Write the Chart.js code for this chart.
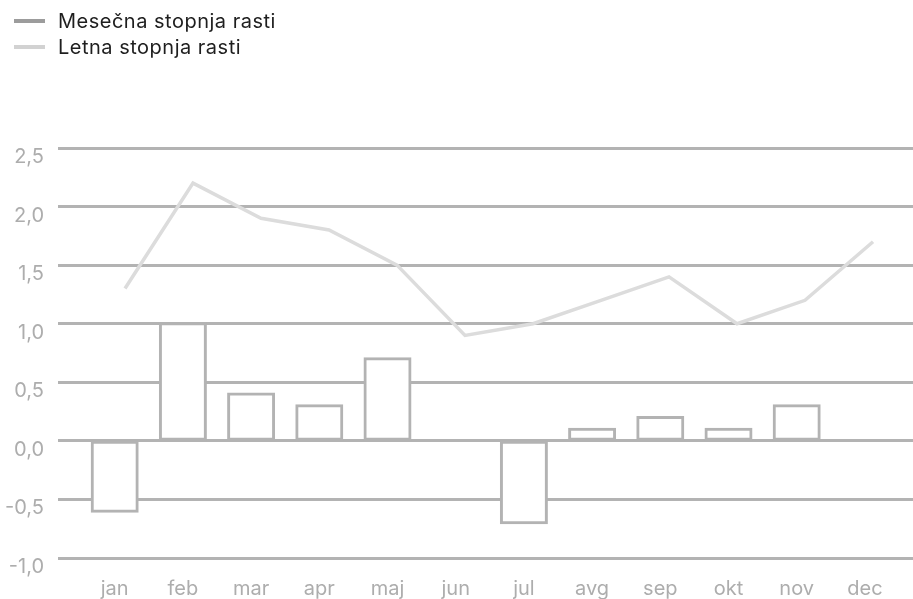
<!DOCTYPE html>
<html>
<head>
<meta charset="utf-8">
<script src="https://cdn.jsdelivr.net/npm/chart.js@4"></script>
<style>
  body { margin: 0; background: #fff; }
  #wrap { position: relative; width: 913px; height: 599px; }
  #legend { position: absolute; left: 14px; top: 8px; font: 20px Inter, "Liberation Sans", sans-serif; letter-spacing: 0.5px; color: #1e1e1e; }
  #legend div { display: flex; align-items: center; height: 26px; }
  #legend span.box { display: inline-block; width: 31px; height: 4px; margin-right: 13px; }
</style>
</head>
<body>
<div id="wrap">
  <div id="legend"></div>
  <canvas id="chart"></canvas>
</div>
<script>
const months = ["jan", "feb", "mar", "apr", "maj", "jun", "jul", "avg", "sep", "okt", "nov", "dec"];
const mesecnaStopnja = [-0.6, 1.0, 0.4, 0.3, 0.7, 0.0, -0.7, 0.1, 0.2, 0.1, 0.3, 0.0];
const letnaStopnja = [1.3, 2.2, 1.9, 1.8, 1.5, 0.9, 1.0, 1.2, 1.4, 1.0, 1.2, 1.7];
const seriesNames = ["Mesečna stopnja rasti", "Letna stopnja rasti"];
const yTicks = [-1.0, -0.5, 0.0, 0.5, 1.0, 1.5, 2.0, 2.5];

const gridColor = "#b3b3b3";
const tickColor = "#adadad";
const fontFamily = "Inter, 'Liberation Sans', sans-serif";

// legend as plain html, stacked like in the original
const legendColors = ["#9c9c9c", "#d2d2d2"];
document.getElementById("legend").innerHTML = seriesNames
  .map((n, i) => `<div><span class="box" style="background:${legendColors[i]}"></span>${n}</div>`)
  .join("");

const yRange = { min: yTicks[0], max: yTicks[yTicks.length - 1] };

new Chart(document.getElementById("chart"), {
  type: "bar",
  data: {
    labels: months,
    datasets: [
      {
        label: seriesNames[0],
        data: mesecnaStopnja,
        backgroundColor: "#ffffff",
        borderColor: gridColor,
        borderWidth: 3,
        borderSkipped: false,
        barThickness: 45,
        inflateAmount: 1.5, // border sits on the value line, not inside it
        grouped: false,
        order: 2
      },
      {
        type: "line",
        label: seriesNames[1],
        data: letnaStopnja.map((v, i) => ({ x: i, y: v })),
        xAxisID: "x2",
        borderColor: "#dcdcdc",
        borderWidth: 3.5,
        pointRadius: 0,
        tension: 0,
        order: 1
      }
    ]
  },
  options: {
    responsive: true,
    maintainAspectRatio: false,
    animation: false,
    layout: { padding: { top: 148, left: 0, right: 0, bottom: 0 } },
    plugins: { legend: { display: false }, tooltip: { enabled: false } },
    scales: {
      x: {
        grid: { display: false },
        border: { display: false },
        ticks: { color: tickColor, font: { family: fontFamily, size: 20 }, padding: 11 },
        afterFit: s => { s.height = 41; }
      },
      // line points sit a bit right of the bar centres in the original
      x2: {
        type: "linear",
        display: false,
        offset: false,
        grid: { offset: false },
        min: -0.653,
        max: 11.382
      },
      y: {
        ...yRange,
        border: { display: false },
        grid: { color: gridColor, lineWidth: 3, drawTicks: true, tickLength: 22.6 },
        ticks: {
          stepSize: 0.5,
          color: tickColor,
          font: { family: fontFamily, size: 20 },
          padding: 14,
          labelOffset: 9,
          callback: v => v.toFixed(1).replace(".", ",")
        },
        afterFit: s => { s.width = 80.6; }
      },
      // only used so the grid lines run on to the right edge
      y2: {
        ...yRange,
        position: "right",
        border: { display: false },
        grid: { color: gridColor, lineWidth: 3, drawOnChartArea: false, drawTicks: true, tickLength: 14 },
        ticks: { stepSize: 0.5, display: false },
        afterFit: s => { s.width = 14; }
      }
    }
  }
});
</script>
</body>
</html>
